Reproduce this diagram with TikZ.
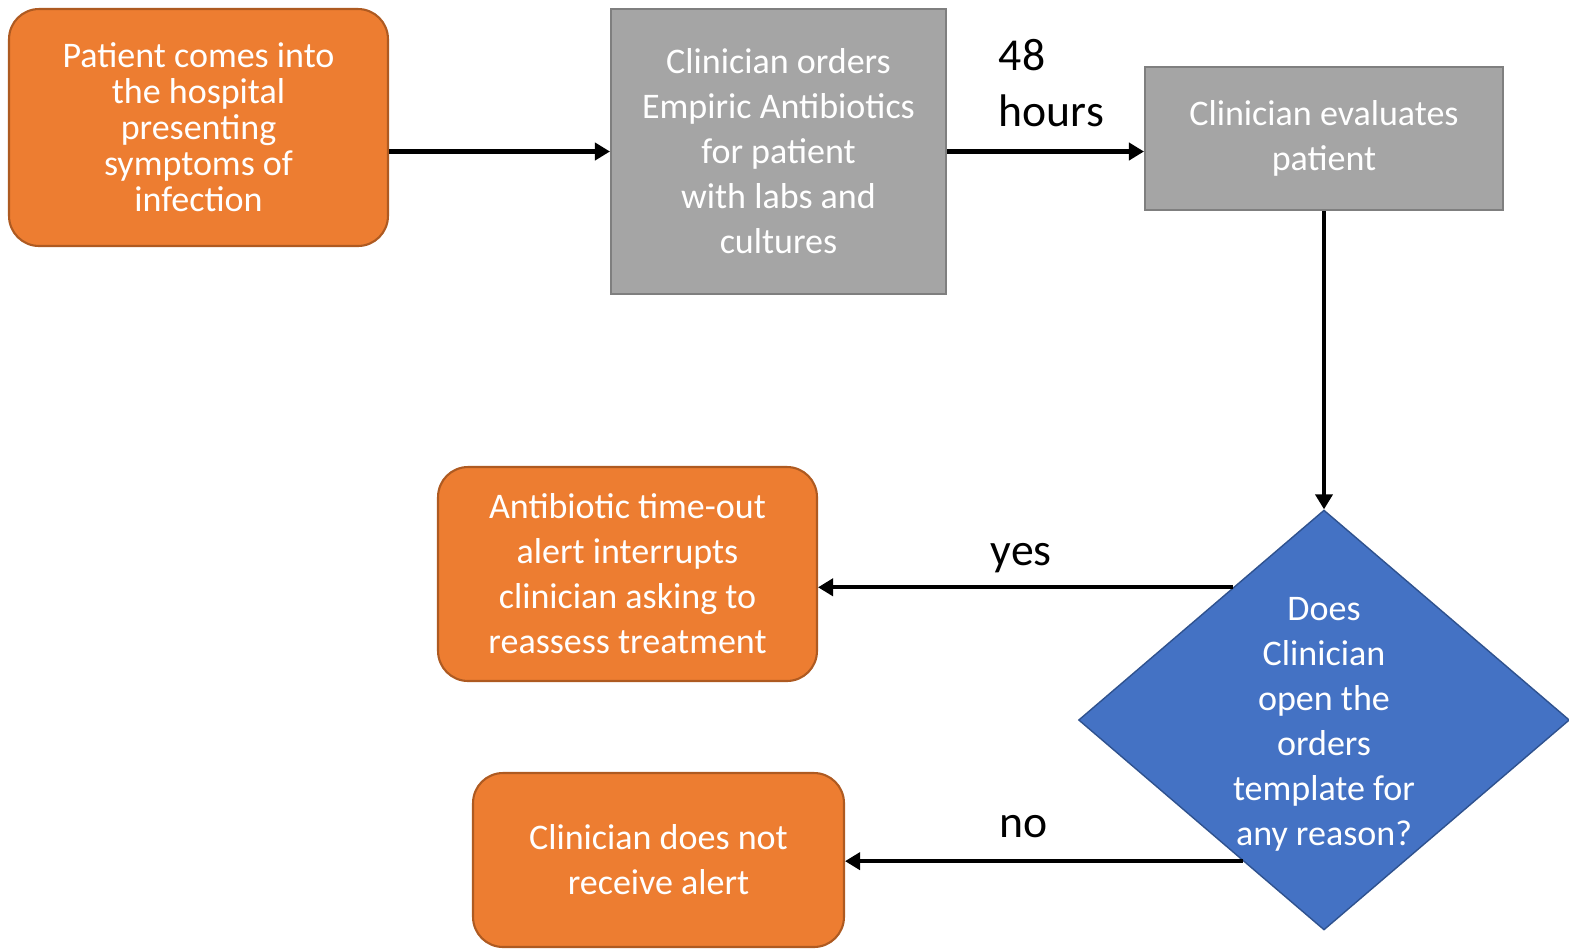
\documentclass[tikz,border=0pt]{standalone}
\usepackage{fontspec}
\setmainfont{Carlito}
\usepackage{tikz}
\usetikzlibrary{positioning,arrows.meta,shapes.geometric,calc}

\definecolor{orangefill}{HTML}{ED7D31}
\definecolor{orangeline}{HTML}{AE5A21}
\definecolor{grayfill}{HTML}{A5A5A5}
\definecolor{grayline}{HTML}{7F7F7F}
\definecolor{bluefill}{HTML}{4472C4}
\definecolor{blueline}{HTML}{2F528F}

\newcommand{\flowfont}{\fontsize{20.5}{25.6}\selectfont}
\newcommand{\tightflowfont}{\fontsize{20.5}{20.5}\selectfont}
\newcommand{\edgefont}{\fontsize{26}{31.7}\selectfont}

\begin{document}
\begin{tikzpicture}[x=0.02cm, y=-0.02cm,
  orangebox/.style={draw=orangeline, fill=orangefill, line width=1.2pt, rounded corners=0.6cm, text=white, align=center, font=\flowfont},
  graybox/.style={draw=grayline, fill=grayfill, line width=1.2pt, text=white, align=center, font=\flowfont},
  decision/.style={diamond, draw=blueline, fill=bluefill, line width=0.8pt, text=white, align=center, font=\flowfont, inner xsep=0pt, inner ysep=-4pt, aspect=1.167},
  flow/.style={-{Triangle[length=3mm, width=3.4mm]}, line width=2.3pt},
  edgelabel/.style={font=\edgefont, inner sep=0pt}]

\useasboundingbox (0,0) rectangle (1569,948);

\node[orangebox, font=\tightflowfont, minimum width=7.58cm, minimum height=4.74cm] (patient) at (198.5,127.5) {Patient comes into\\the hospital\\presenting\\symptoms of\\infection};
\node[graybox, minimum width=6.7cm, minimum height=5.7cm] (orders) at (778.5,151.5) {Clinician orders\\Empiric Antibiotics\\for patient\\with labs and\\cultures};
\node[graybox, minimum width=7.16cm, minimum height=2.86cm] (evaluate) at (1324,138.5) {Clinician evaluates\\patient};
\node[decision, minimum width=9.82cm, minimum height=8.4cm] (opens) at (1324,720) {\vphantom{D}\\[-20.5pt]Does\\Clinician\\open the\\orders\\template for\\any reason?};
\node[orangebox, minimum width=7.58cm, minimum height=4.28cm] (alert) at (627.5,574) {Antibiotic time-out\\alert interrupts\\clinician asking to\\reassess treatment};
\node[orangebox, minimum width=7.42cm, minimum height=3.48cm] (noalert) at (658.5,860) {Clinician does not\\receive alert};

% exits on the left edges of the diamond
\coordinate (yesout) at ($(opens.north)!0.37!(opens.west)$);
\coordinate (noout) at ($(opens.west)!0.67!(opens.south)$);

\draw[flow] (patient.east |- orders) -- (orders.west);
\draw[flow] (orders.east) -- (orders.east -| evaluate.west) node[pos=0.53, above=0.45cm, edgelabel, align=left] {48\\hours};
\draw[flow] (evaluate.south) -- (opens.north);
\draw[flow] (yesout) -- (yesout -| alert.east) node[pos=0.51, above=0.24cm, edgelabel] {yes};
\draw[flow] (noout) -- (noout -| noalert.east) node[pos=0.55, above=0.42cm, edgelabel] {no};
\end{tikzpicture}
\end{document}
